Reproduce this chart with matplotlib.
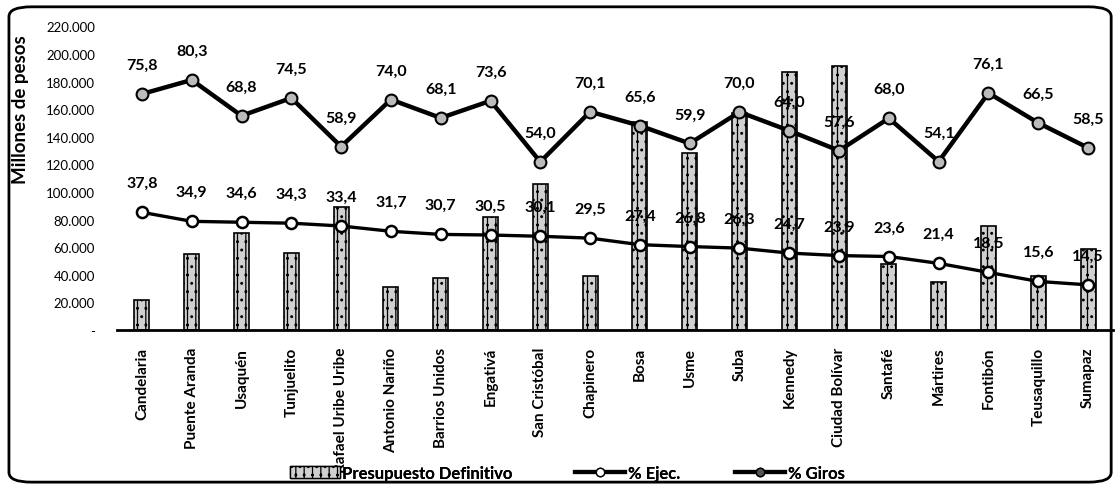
import matplotlib
matplotlib.use("Agg")
import matplotlib.pyplot as plt
from matplotlib.patches import FancyBboxPatch
from matplotlib.lines import Line2D
from matplotlib.patches import Patch
from matplotlib.ticker import FuncFormatter

plt.rcParams['font.family'] = ['Lato', 'DejaVu Sans']
plt.rcParams['hatch.color'] = '#444444'
plt.rcParams['hatch.linewidth'] = 0.9

localidades = ["Candelaria", "Puente Aranda", "Usaquén", "Tunjuelito", "Rafael Uribe Uribe",
               "Antonio Nariño", "Barrios Unidos", "Engativá", "San Cristóbal", "Chapinero",
               "Bosa", "Usme", "Suba", "Kennedy", "Ciudad Bolívar", "Santafé", "Mártires",
               "Fontibón", "Teusaquillo", "Sumapaz"]
presupuesto = [22000, 55000, 70000, 56000, 89000, 31000, 38000, 82000, 106000, 39000,
               151000, 128000, 157000, 187000, 191000, 48000, 35000, 75000, 39000, 59000]
pct_ejec = [75.8, 80.3, 68.8, 74.5, 58.9, 74.0, 68.1, 73.6, 54.0, 70.1,
            65.6, 59.9, 70.0, 64.0, 57.6, 68.0, 54.1, 76.1, 66.5, 58.5]
pct_giros = [37.8, 34.9, 34.6, 34.3, 33.4, 31.7, 30.7, 30.5, 30.1, 29.5,
             27.4, 26.8, 26.3, 24.7, 23.9, 23.6, 21.4, 18.5, 15.6, 14.5]
yticks = list(range(0, 220001, 20000))

fig = plt.figure(figsize=(11.19, 4.89), dpi=100)
ax = fig.add_axes([0.1046, 0.3231, 0.8900, 0.6209])
x = list(range(len(localidades)))

ax.bar(x, presupuesto, width=0.3, facecolor='#d0d0d0', edgecolor='black',
       linewidth=1.2, hatch='||..', zorder=2)
ax.set_ylim(0, 220000)
ax.set_xlim(-0.5, len(localidades) - 0.5)
ax.set_yticks(yticks)
ax.yaxis.set_major_formatter(FuncFormatter(
    lambda v, p: '-' if v == 0 else f"{int(v):,}".replace(',', '.')))
ax.tick_params(axis='y', length=0, pad=16, labelsize=9.5)
ax.set_xticks(x)
ax.set_xticklabels(localidades, rotation=90, fontsize=11, fontweight='bold')
ax.tick_params(axis='x', length=0, pad=12)
for s in ['left', 'right', 'top']:
    ax.spines[s].set_visible(False)
ax.spines['bottom'].set_linewidth(2)
ax.set_ylabel("Millones de pesos", fontsize=13.5, fontweight='bold', labelpad=6)
ax.yaxis.set_label_coords(-0.088, 0.73)

ax2 = ax.twinx()
ax2.set_ylim(0, 97.5)
ax2.axis('off')
ax2.plot(x, pct_ejec, color='black', linewidth=3.2, marker='o', markersize=8.5,
         markerfacecolor='#bbbbbb', markeredgecolor='black', markeredgewidth=1.5, zorder=3)
ax2.plot(x, pct_giros, color='black', linewidth=2.4, marker='o', markersize=8,
         markerfacecolor='white', markeredgecolor='black', markeredgewidth=1.8, zorder=3)
for xi, v in zip(x, pct_ejec):
    ax2.annotate(f"{v:.1f}".replace('.', ','), (xi, v), xytext=(0, 21),
                 textcoords='offset points', ha='center', va='center',
                 fontsize=11.5, fontweight='bold')
for xi, v in zip(x, pct_giros):
    ax2.annotate(f"{v:.1f}".replace('.', ','), (xi, v), xytext=(0, 21),
                 textcoords='offset points', ha='center', va='center',
                 fontsize=11.5, fontweight='bold')

items = [
    (Patch(facecolor='#d0d0d0', edgecolor='black', hatch='||..'), 'Presupuesto Definitivo', 290),
    (Line2D([0], [0], color='black', linewidth=3, marker='o', markersize=6,
            markerfacecolor='white', markeredgecolor='black'), '% Ejec.', 575),
    (Line2D([0], [0], color='black', linewidth=3, marker='o', markersize=6,
            markerfacecolor='#555555', markeredgecolor='black'), '% Giros', 735),
]
for h, lab, px in items:
    leg = fig.legend(handles=[h], labels=[lab], loc='center left',
                     bbox_to_anchor=(px / 1119, 1 - 474 / 489), frameon=False,
                     prop={'weight': 'bold', 'size': 12}, handlelength=3.0,
                     handletextpad=0.15, borderpad=0, borderaxespad=0)
    fig.add_artist(leg)

border = FancyBboxPatch((0.008, 0.012), 0.985, 0.972, boxstyle="round,pad=0,rounding_size=0.02",
                        transform=fig.transFigure, fill=False, edgecolor='black', linewidth=2)
fig.patches.append(border)

fig.savefig("out.png", dpi=100)
